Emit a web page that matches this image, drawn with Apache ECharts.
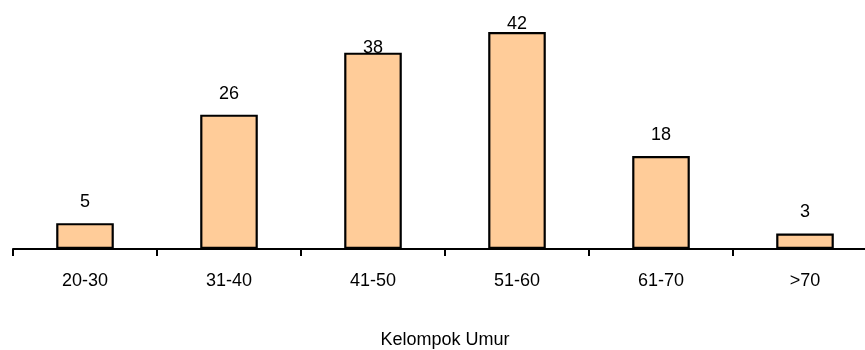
<!DOCTYPE html>
<html>
<head>
<meta charset="utf-8">
<script src="https://cdn.jsdelivr.net/npm/echarts@6/dist/echarts.min.js"></script>
<style>
  html, body { margin: 0; padding: 0; background: #fff; }
  #chart { width: 865px; height: 350px; }
</style>
</head>
<body>
<div id="chart"></div>
<script>
// Age groups and respondent counts
const categories = ['20-30', '31-40', '41-50', '51-60', '61-70', '>70'];
const counts = [5, 26, 38, 42, 18, 3];
const axisTitle = 'Kelompok Umur';

const FONT = '"Liberation Sans", Arial, sans-serif';

// Value labels sit above each bar; the two tallest are pulled down so they stay inside the plot
const labelDistance = [12, 12, -4, -1, 12, 12];

const chart = echarts.init(document.getElementById('chart'), null, { renderer: 'canvas' });

chart.setOption({
  animation: false,
  backgroundColor: '#ffffff',
  grid: { left: 13, width: 864, top: 16.5, height: 232.5, outerBoundsMode: 'none', containLabel: false },
  xAxis: {
    type: 'category',
    data: categories,
    boundaryGap: true,
    name: axisTitle,
    nameLocation: 'middle',
    nameGap: 82,
    nameTextStyle: { fontFamily: FONT, fontSize: 18, color: '#000' },
    axisLine: { lineStyle: { color: '#000', width: 2 } },
    axisTick: { show: true, length: 7, lineStyle: { color: '#000', width: 2 } },
    axisLabel: { fontFamily: FONT, fontSize: 18, color: '#000', margin: 23 },
    splitLine: { show: false }
  },
  yAxis: {
    type: 'value',
    min: 0,
    max: 45,
    show: false,
    splitLine: { show: false }
  },
  series: [{
    type: 'bar',
    data: counts.map((v, i) => ({
      value: v,
      label: { distance: labelDistance[i] }
    })),
    barWidth: '40%',
    itemStyle: { color: '#FFCC99', borderColor: '#000', borderWidth: 2.2 },
    label: {
      show: true,
      position: 'top',
      fontFamily: FONT,
      fontSize: 18,
      color: '#000'
    }
  }]
});
</script>
</body>
</html>
